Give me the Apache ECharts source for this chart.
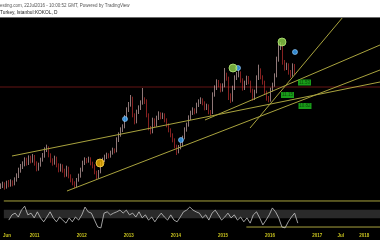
<!DOCTYPE html>
<html><head><meta charset="utf-8">
<script src="https://cdn.jsdelivr.net/npm/echarts@6/dist/echarts.min.js"></script>
<style>html,body{margin:0;padding:0;background:#000;}#c{width:380px;height:240px;}</style>
</head><body><div id="c"></div>
<script>
const headerLine1 = 'esting.com, 22Jul2016 - 10:00:52 GMT, Powered by TradingView';
const headerLine2 = 'Turkey, Istanbul:KOKOL, D';

const barStartYear = 2010.370;
const barStepYears = 0.04202;
const firstOpen = 8.40;
const closes = [8.42,8.48,8.39,8.51,8.45,8.54,8.48,8.60,8.72,8.90,
8.99,9.08,9.20,9.11,9.26,9.17,9.29,9.11,8.93,9.05,
9.20,9.32,9.50,9.56,9.35,9.20,9.11,9.26,9.05,8.90,
9.02,8.90,8.75,8.96,8.72,8.60,8.51,8.42,8.60,8.72,
8.90,9.11,9.20,9.17,9.23,9.11,9.02,8.84,8.69,8.84,
9.08,9.20,9.29,9.35,9.32,9.41,9.50,9.47,9.80,9.95,
10.10,10.19,10.46,10.70,10.85,11.06,10.55,10.34,10.64,10.76,
10.91,11.00,10.97,10.55,10.16,10.04,10.40,10.25,10.46,10.58,
10.49,10.55,10.40,10.25,10.10,9.95,9.80,9.62,9.44,9.59,
9.65,9.86,10.10,10.25,10.46,10.61,10.70,10.64,10.85,10.94,
11.00,10.91,10.76,10.82,10.64,10.61,11.15,11.36,11.54,11.45,
11.30,11.42,11.75,11.66,11.15,11.00,11.36,11.66,11.75,11.81,
11.60,11.36,11.51,11.66,11.54,11.30,11.06,11.24,11.66,11.90,
11.69,11.54,11.24,11.06,11.00,11.30,11.45,11.72,12.20,12.59,
12.65,12.14,11.96,12.05,11.84,11.75,12.02,11.84];
const lows = [8.33,8.36,8.31,8.34,8.38,8.40,8.41,8.44,8.55,8.66,
8.82,8.93,9.01,9.03,9.05,9.10,9.12,9.03,8.86,8.88,
9.00,9.15,9.27,9.44,9.28,9.12,9.03,9.06,8.98,8.83,
8.85,8.82,8.68,8.70,8.65,8.53,8.44,8.35,8.38,8.55,
8.67,8.85,9.05,9.10,9.12,9.04,8.95,8.77,8.62,8.64,
8.80,9.03,9.14,9.23,9.25,9.27,9.36,9.40,9.43,9.74,
9.90,10.04,10.15,10.40,10.64,10.80,10.48,10.27,10.30,10.58,
10.70,10.86,10.88,10.48,10.09,9.97,10.00,10.18,10.20,10.40,
10.42,10.43,10.33,10.18,10.03,9.88,9.73,9.55,9.35,9.40,
9.52,9.60,9.82,10.05,10.20,10.40,10.55,10.57,10.60,10.79,
10.88,10.84,10.69,10.70,10.57,10.52,10.58,11.10,11.30,11.38,
11.23,11.25,11.38,11.58,11.00,10.91,10.95,11.30,11.60,11.68,
11.52,11.28,11.30,11.45,11.47,11.22,10.98,11.00,11.20,11.60,
11.62,11.46,11.16,10.98,10.93,10.95,11.25,11.40,11.68,12.15,
12.50,12.06,11.88,11.90,11.76,11.67,11.70,11.76];
const highs = [8.50,8.55,8.53,8.58,8.60,8.62,8.59,8.68,8.80,8.97,
9.08,9.16,9.28,9.27,9.34,9.33,9.38,9.35,9.16,9.12,
9.27,9.41,9.58,9.66,9.61,9.40,9.25,9.33,9.30,9.10,
9.09,9.07,8.94,9.03,9.00,8.77,8.65,8.56,8.66,8.79,
8.97,9.18,9.28,9.26,9.30,9.28,9.15,9.07,8.88,8.90,
9.15,9.27,9.36,9.42,9.40,9.48,9.57,9.55,9.88,10.03,
10.18,10.27,10.55,10.78,10.94,11.15,11.10,10.60,10.71,10.84,
10.99,11.36,11.08,11.02,10.60,10.22,10.47,10.45,10.53,10.66,
10.63,10.62,10.60,10.45,10.30,10.15,10.00,9.85,9.66,9.65,
9.73,9.93,10.18,10.32,10.54,10.68,10.78,10.75,10.92,11.02,
11.08,11.05,10.96,10.89,10.87,10.70,11.23,11.44,11.62,11.60,
11.50,11.50,11.96,11.82,11.70,11.20,11.43,11.74,11.84,11.90,
11.86,11.65,11.58,11.73,11.72,11.58,11.34,11.31,11.74,12.06,
11.95,11.74,11.58,11.28,11.12,11.37,11.52,11.80,12.30,12.70,
12.74,12.70,12.20,12.12,12.10,11.90,12.10,12.08];

const oscStartYear = 2010.454;
const oscStepYears = 0.0674;
const oscValues = [36,48,52,43,59,68,48,52,41,55,41,32,43,55,41,32,43,36,29,41,32,43,36,48,66,55,52,36,20,18,52,55,48,52,55,59,52,59,48,
52,43,55,41,48,36,43,32,43,52,43,36,48,36,32,43,55,59,66,59,55,52,41,48,36,52,59,48,36,43,52,41,48,36,43,32,41,29,48,55,41,25,36,48,64,55,41,20,18,32,43,52,29];

const trendLines = [
  [[2010.601, 9.32], [2018.332, 11.54]],
  [[2011.756, 8.27], [2018.332, 11.90]],
  [[2015.601, 10.16], [2017.555, 13.49]],
  [[2014.655, 10.40], [2018.332, 12.65]]
];
const resistanceLevel = 11.39;
const blueDots = [[2012.975, 10.43], [2014.151, 9.80], [2015.349, 11.96], [2016.546, 12.44]];
const greenDots = [[2015.244, 11.96], [2016.273, 12.74]];
const yellowDots = [[2012.45, 9.11]];
const priceLabels = [[2016.746, 11.525, '11.53'], [2016.389, 11.15, '11.15'], [2016.756, 10.82, '10.82']];
const tickYears = [2010.416, 2011, 2012, 2013, 2014, 2015, 2016, 2017, 2017.5, 2018];
const tickLabels = ['Jun', '2011', '2012', '2013', '2014', '2015', '2016', '2017', 'Jul', '2018'];
const oscUpper = 80, oscLower = 20, oscBandLow = 40, oscBandHigh = 60;
const oscLowerStart = 2015.496;

const xMin = 2010.349, xMax = 2018.332;

const candleData = closes.map((c, i) => [barStartYear + i * barStepYears, i === 0 ? firstOpen : closes[i - 1], c, lows[i], highs[i]]);
const oscData = oscValues.map((v, i) => [oscStartYear + i * oscStepYears, v]);
const trendColor = '#a9a33e';

const series = [
  {
    type: 'candlestick', xAxisIndex: 0, yAxisIndex: 0, data: candleData,
    encode: { x: 0, y: [1, 2, 3, 4] }, barWidth: 1,
    itemStyle: { color: '#f0c8c8', color0: '#e03838', borderColor: '#f0c8c8', borderColor0: '#e03838', borderWidth: 0.6 }
  },
  {
    type: 'line', xAxisIndex: 0, yAxisIndex: 0, symbol: 'none', silent: true,
    data: [[xMin, resistanceLevel], [xMax, resistanceLevel]],
    lineStyle: { color: '#651414', width: 1 }, z: 1
  }
];
trendLines.forEach(l => series.push({
  type: 'line', xAxisIndex: 0, yAxisIndex: 0, symbol: 'none', silent: true, data: l,
  lineStyle: { color: trendColor, width: 1 }, z: 3
}));
series.push({
  type: 'scatter', xAxisIndex: 0, yAxisIndex: 0, data: blueDots, symbolSize: 5,
  itemStyle: { color: '#3aa6ff', borderColor: '#9ad2ff', borderWidth: 0.8 }, z: 5
});
series.push({
  type: 'scatter', xAxisIndex: 0, yAxisIndex: 0, data: greenDots, symbolSize: 8,
  itemStyle: { color: '#8fd24a', borderColor: '#b8ec7a', borderWidth: 1 }, z: 5
});
series.push({
  type: 'scatter', xAxisIndex: 0, yAxisIndex: 0, data: yellowDots, symbolSize: 8,
  itemStyle: { color: '#f2b400', borderColor: '#ffd54a', borderWidth: 1 }, z: 5
});
series.push({
  type: 'scatter', xAxisIndex: 0, yAxisIndex: 0, data: priceLabels.map(p => [p[0], p[1], p[2]]),
  symbol: 'rect', symbolSize: [13, 6],
  itemStyle: { color: '#1fc41f' }, z: 6,
  label: { show: true, position: 'inside', formatter: p => p.data[2], color: '#063006', fontSize: 4.5, fontFamily: 'Liberation Sans' }
});
series.push({
  type: 'line', xAxisIndex: 1, yAxisIndex: 1, data: oscData, symbol: 'none', silent: true,
  lineStyle: { color: '#c8c8c8', width: 0.8 }, z: 4,
  markArea: { silent: true, itemStyle: { color: '#2a2a2a' }, data: [[{ yAxis: oscBandLow }, { yAxis: oscBandHigh }]] }
});
series.push({
  type: 'line', xAxisIndex: 1, yAxisIndex: 1, symbol: 'none', silent: true,
  data: [[xMin, oscUpper], [xMax, oscUpper]], lineStyle: { color: trendColor, width: 1 }, z: 3
});
series.push({
  type: 'line', xAxisIndex: 1, yAxisIndex: 1, symbol: 'none', silent: true,
  data: [[oscLowerStart, oscLower], [xMax, oscLower]], lineStyle: { color: trendColor, width: 1 }, z: 3
});

const chart = echarts.init(document.getElementById('c'), null, { renderer: 'canvas' });
chart.setOption({
  animation: false,
  backgroundColor: '#000',
  grid: [
    { left: 0, right: 0, top: 18, height: 177 },
    { left: 0, right: 0, top: 192.3, height: 43.4 }
  ],
  xAxis: [
    { type: 'value', gridIndex: 0, min: xMin, max: xMax, show: false },
    {
      type: 'value', gridIndex: 1, min: xMin, max: xMax,
      axisLine: { show: false }, axisTick: { show: false }, splitLine: { show: false },
      axisLabel: {
        customValues: tickYears, margin: 0, verticalAlign: 'middle',
        color: '#c9c31e', fontSize: 4.5, fontWeight: 'bold', fontFamily: 'Liberation Sans',
        formatter: v => { const i = tickYears.findIndex(t => Math.abs(t - v) < 1e-6); return i >= 0 ? tickLabels[i] : ''; }
      }
    }
  ],
  yAxis: [
    { type: 'value', gridIndex: 0, min: 8.15, max: 13.46, show: false },
    { type: 'value', gridIndex: 1, min: 0, max: 100, show: false }
  ],
  graphic: [
    { type: 'rect', z: 100, shape: { x: 0, y: 0, width: 380, height: 17 }, style: { fill: '#ffffff' } },
    { type: 'rect', z: 100, shape: { x: 0, y: 17, width: 380, height: 1 }, style: { fill: '#6a6a6a' } },
    { type: 'text', z: 101, x: 0, y: 5.3, style: { text: headerLine1, fill: '#555555', fontSize: 4.5, fontFamily: 'Liberation Sans', verticalAlign: 'middle' } },
    { type: 'text', z: 101, x: 0, y: 13, style: { text: headerLine2, fill: '#222222', fontSize: 4.8, fontFamily: 'Liberation Sans', verticalAlign: 'middle' } }
  ],
  series: series
});
</script></body></html>
